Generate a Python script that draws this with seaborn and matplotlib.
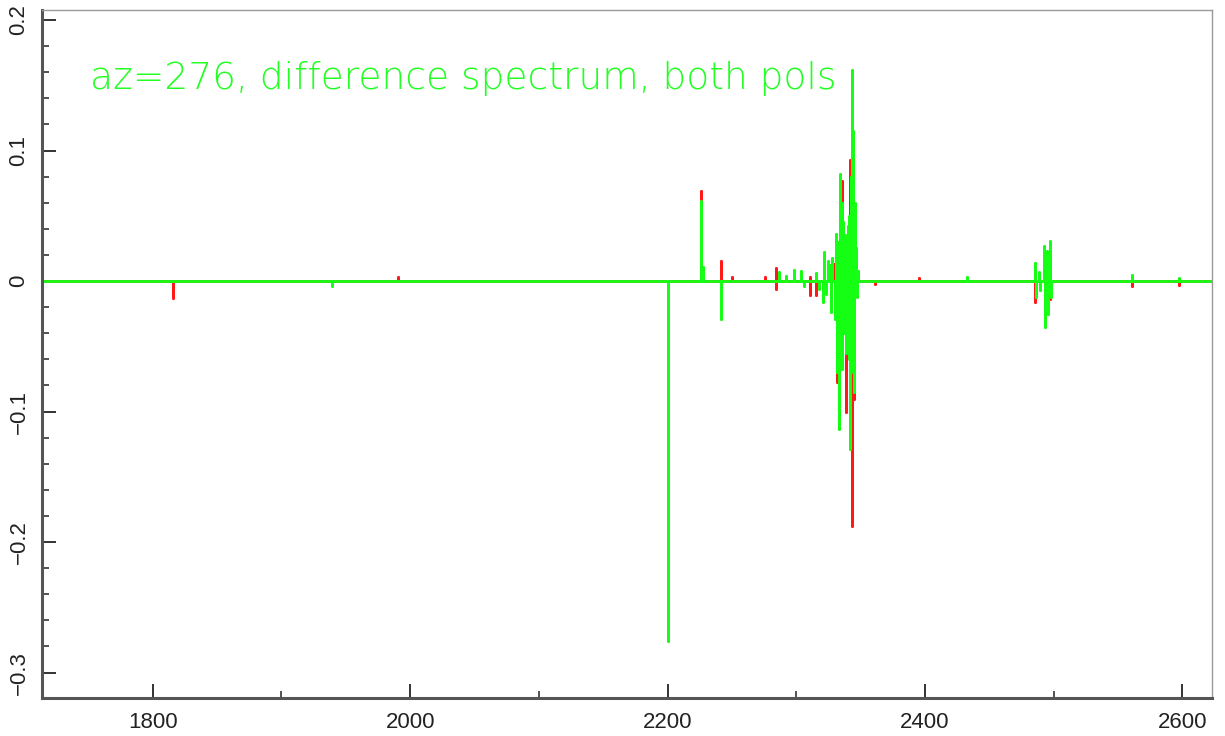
import numpy as np
import pandas as pd
import matplotlib
matplotlib.use("Agg")
import matplotlib.pyplot as plt
from matplotlib.ticker import MultipleLocator
import seaborn as sns

# Frequency span of the difference spectrum
freq_span = [1714, 2623]

# Polarisation A (red): spike positions and amplitudes
red_freq = [1815.5, 1990.3, 2200.0, 2225.9, 2241.6, 2250.1, 2276.0, 2283.9, 2284.6,
            2310.3, 2311.0, 2315.0, 2329.5, 2331.7, 2333.0, 2335.4, 2338.8,
            2342.1, 2343.2, 2345.2, 2361.0, 2395.0, 2485.8, 2497.4, 2561.0, 2597.6]
red_amp = [-0.013, 0.003, -0.039, 0.069, 0.0156, 0.003, 0.003, 0.0097, -0.006,
           -0.011, 0.003, -0.011, 0.013, -0.077, 0.013, 0.077, -0.100,
           0.093, -0.1875, -0.090, -0.002, 0.002, -0.016, -0.014, -0.004, -0.003]

# Polarisation B (green): spike positions and amplitudes
green_freq = [1939.0, 2200.0, 2225.9, 2226.6, 2227.4, 2241.7, 2286.5, 2292.0, 2297.9,
              2304.0, 2306.0, 2315.5, 2318.0, 2320.6, 2321.9, 2323.0, 2324.5,
              2326.0, 2327.0, 2328.0, 2329.7, 2330.9, 2331.7, 2332.4, 2333.1,
              2333.6, 2334.5, 2335.2, 2335.7, 2336.5, 2337.3, 2338.0, 2339.0,
              2339.9, 2340.7, 2341.3, 2342.1, 2342.8, 2343.4, 2343.8, 2344.4,
              2345.2, 2345.8, 2346.5, 2347.2, 2348.0, 2433.0, 2485.8, 2486.6,
              2488.2, 2489.0, 2492.8, 2493.6, 2495.0, 2495.8, 2497.4, 2498.2,
              2561.0, 2597.6]
green_amp = [-0.004, -0.276, 0.0615, 0.011, 0.011, -0.029, 0.007, 0.004, 0.0087,
             0.008, -0.004, 0.006, -0.006, -0.016, 0.022, -0.010, 0.015,
             0.012, -0.024, 0.018, -0.029, 0.036, -0.070, 0.030, -0.113,
             0.082, -0.050, 0.060, -0.067, 0.045, -0.040, 0.035, -0.055,
             0.042, -0.060, 0.050, -0.129, 0.080, 0.162, -0.070, 0.115,
             -0.085, 0.060, 0.025, -0.012, 0.008, 0.003, 0.014, -0.012,
             0.007, -0.007, 0.027, -0.035, 0.023, -0.025, 0.031, -0.012,
             0.005, 0.002]

y_ticks = [-0.3, -0.2, -0.1, 0, 0.1, 0.2]
y_tick_labels = ["\u22120.3", "\u22120.2", "\u22120.1", "0", "0.1", "0.2"]
x_ticks = [1800, 2000, 2200, 2400, 2600]
title_text = "az=276, difference spectrum, both pols"


def spike_path(name, freqs, amps):
    """Trace a zero baseline across the span, rising to each spike."""
    order = np.argsort(freqs)
    xs, ys = [freq_span[0]], [0.0]
    for i in order:
        xs += [freqs[i], freqs[i], freqs[i]]
        ys += [0.0, amps[i], 0.0]
    xs.append(freq_span[1])
    ys.append(0.0)
    return pd.DataFrame({"freq": xs, "diff": ys, "pol": name})


df = pd.concat([spike_path("red", red_freq, red_amp),
                spike_path("green", green_freq, green_amp)], ignore_index=True)

sns.set_theme(style="white")
plt.rcParams["font.family"] = ["Liberation Sans Narrow", "Liberation Sans", "DejaVu Sans"]

fig = plt.figure(figsize=(12.25, 7.36), dpi=100)
ax = fig.add_axes([0.0343, 0.0516, 0.9551, 0.9348])

sns.lineplot(data=df, x="freq", y="diff", hue="pol", hue_order=["red", "green"],
             palette={"red": "#ff1a1a", "green": "#14ff14"}, sort=False,
             estimator=None, legend=False, linewidth=2.0, ax=ax)

ax.set_xlim(freq_span)
ax.set_ylim(-0.3195, 0.2077)
ax.set_xlabel("")
ax.set_ylabel("")

ax.set_xticks(x_ticks)
ax.set_xticklabels([str(t) for t in x_ticks])
ax.xaxis.set_minor_locator(MultipleLocator(100))
ax.set_yticks(y_ticks)
ax.set_yticklabels(y_tick_labels, rotation=90, va="center")
ax.yaxis.set_minor_locator(MultipleLocator(0.02))

ax.tick_params(axis="both", which="both", direction="in", colors="#333333",
               labelcolor="#222222", labelsize=16, left=True, bottom=True,
               top=False, right=False)
ax.tick_params(axis="both", which="major", length=10, width=1.4)
ax.tick_params(axis="both", which="minor", length=5, width=1.2)
ax.tick_params(axis="x", pad=10)
ax.tick_params(axis="y", pad=9)

for side in ["left", "bottom"]:
    ax.spines[side].set_color("#555555")
    ax.spines[side].set_linewidth(2.2)
for side in ["top", "right"]:
    ax.spines[side].set_color("#9a9a9a")
    ax.spines[side].set_linewidth(1.0)

ax.text(0.041, 0.901, title_text, transform=ax.transAxes, color="#22ff22",
        fontsize=27, family="DejaVu Sans", fontweight="light", va="center", ha="left")

fig.savefig("out.png", dpi=100, facecolor="white")
